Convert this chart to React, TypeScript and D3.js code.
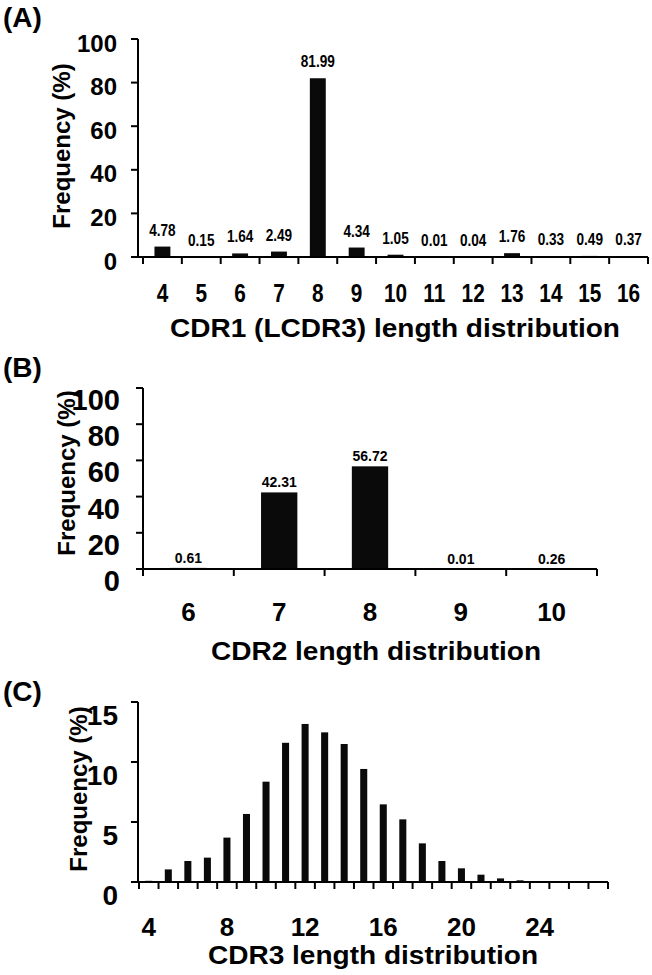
import React from "react";
import * as d3 from "d3";

// panel A: CDR1 (LCDR3)
const aCategories = [4, 5, 6, 7, 8, 9, 10, 11, 12, 13, 14, 15, 16];
const aValues = [4.78, 0.15, 1.64, 2.49, 81.99, 4.34, 1.05, 0.01, 0.04, 1.76, 0.33, 0.49, 0.37];
const aYTicks = [0, 20, 40, 60, 80, 100];

// panel B: CDR2
const bCategories = [6, 7, 8, 9, 10];
const bValues = [0.61, 42.31, 56.72, 0.01, 0.26];
const bYTicks = [0, 20, 40, 60, 80, 100];

// panel C: CDR3 (no labels in the figure)
const cCategories = [4, 5, 6, 7, 8, 9, 10, 11, 12, 13, 14, 15, 16, 17, 18, 19, 20, 21, 22, 23, 24, 25, 26, 27];
const cValues = [0.1, 1.05, 1.75, 2.03, 3.7, 5.67, 8.36, 11.6, 13.17, 12.47, 11.5, 9.42, 6.47, 5.22, 3.22, 1.75, 1.14, 0.61, 0.3, 0.14, 0.05, 0.03, 0.02, 0.01];
const cYTicks = [0, 5, 10, 15];
const cXTickLabels = [4, 8, 12, 16, 20, 24];

const FONT = "'Liberation Sans', Arial, Helvetica, sans-serif";

interface PanelProps {
  tag: string;
  tagY: number;
  categories: number[];
  values: number[];
  yTicks: number[];
  xRange: [number, number];
  yRange: [number, number];
  axisX: number;
  barRatio: number;
  xLabels?: number[];
  xLabelY: number;
  xLabelScale: number;
  yLabelSize: number;
  yLabelDy: number;
  yLabelRight: number;
  title: string;
  titleX: number;
  titleY: number;
  titleLen: number;
  freqX: number;
  freqY: number;
  valueLabels?: { size: number; gap: number; scale: number };
}

const Panel: React.FC<PanelProps> = (p) => {
  const x = d3
    .scaleBand<number>()
    .domain(p.categories)
    .range(p.xRange)
    .paddingInner(0)
    .paddingOuter(0);
  const y = d3
    .scaleLinear()
    .domain([0, d3.max(p.yTicks) || 100])
    .range(p.yRange);
  const bw = x.bandwidth();
  const barW = bw * p.barRatio;
  const y0 = y(0);
  const tickBounds = [...p.categories.map((c) => x(c) || 0), p.xRange[1]];
  const shownLabels = p.xLabels || p.categories;

  return (
    <g>
      <text x={3} y={p.tagY} fontSize={28} fontWeight="bold">
        {p.tag}
      </text>

      {/* bars */}
      {p.categories.map((c, i) => (
        <rect
          key={c}
          x={(x(c) || 0) + (bw - barW) / 2}
          y={y(p.values[i])}
          width={barW}
          height={y0 - y(p.values[i])}
          fill="#0a0a0a"
        />
      ))}

      {/* value labels */}
      {p.valueLabels &&
        p.categories.map((c, i) => (
          <text
            key={"v" + c}
            transform={`translate(${(x(c) || 0) + bw / 2},${y(p.values[i]) - p.valueLabels!.gap}) scale(${p.valueLabels!.scale},1)`}
            textAnchor="middle"
            fontSize={p.valueLabels!.size}
            fontWeight="bold"
          >
            {p.values[i].toFixed(2)}
          </text>
        ))}

      {/* y axis */}
      <line x1={p.axisX} x2={p.axisX} y1={y0} y2={p.yRange[1]} stroke="#000" strokeWidth={2} />
      {p.yTicks.map((t) => (
        <g key={"y" + t}>
          <line x1={p.axisX - 7} x2={p.axisX} y1={y(t)} y2={y(t)} stroke="#000" strokeWidth={2} />
          <text
            x={p.yLabelRight}
            y={y(t) + p.yLabelDy}
            textAnchor="end"
            fontSize={p.yLabelSize}
            fontWeight="bold"
          >
            {t}
          </text>
        </g>
      ))}

      {/* x axis */}
      <line x1={p.axisX - 6} x2={p.xRange[1]} y1={y0} y2={y0} stroke="#000" strokeWidth={2} />
      {tickBounds.map((tx, i) => (
        <line key={"xt" + i} x1={tx} x2={tx} y1={y0} y2={y0 + 7} stroke="#000" strokeWidth={2} />
      ))}
      {shownLabels.map((c) => (
        <text
          key={"xl" + c}
          transform={`translate(${(x(c) || 0) + bw / 2},${p.xLabelY}) scale(${p.xLabelScale},1)`}
          textAnchor="middle"
          fontSize={26}
          fontWeight="bold"
        >
          {c}
        </text>
      ))}

      <text
        x={p.titleX}
        y={p.titleY}
        textAnchor="middle"
        fontSize={25}
        fontWeight="bold"
        textLength={p.titleLen}
        lengthAdjust="spacingAndGlyphs"
      >
        {p.title}
      </text>

      <text
        transform={`translate(${p.freqX},${p.freqY}) rotate(-90)`}
        textAnchor="middle"
        dominantBaseline="central"
        fontSize={24}
        fontWeight="bold"
      >
        Frequency (%)
      </text>
    </g>
  );
};

export default function App() {
  return (
    <svg
      width={652}
      height={975}
      style={{ position: "absolute", left: 0, top: 0, background: "#fff" }}
      fontFamily={FONT}
    >
      <rect width={652} height={975} fill="#fff" />
      <Panel
        tag="(A)"
        tagY={27}
        categories={aCategories}
        values={aValues}
        yTicks={aYTicks}
        xRange={[143, 648]}
        yRange={[257, 39]}
        axisX={138}
        barRatio={0.41}
        xLabelY={302}
        xLabelScale={0.8}
        yLabelSize={24}
        yLabelDy={12.5}
        yLabelRight={117}
        title="CDR1 (LCDR3) length distribution"
        titleX={395}
        titleY={337}
        titleLen={450}
        freqX={61}
        freqY={146}
        valueLabels={{ size: 16, gap: 11, scale: 0.85 }}
      />
      <Panel
        tag="(B)"
        tagY={377}
        categories={bCategories}
        values={bValues}
        yTicks={bYTicks}
        xRange={[143, 597]}
        yRange={[569, 388]}
        axisX={143}
        barRatio={0.4}
        xLabelY={621}
        xLabelScale={1}
        yLabelSize={29}
        yLabelDy={22}
        yLabelRight={120}
        title="CDR2 length distribution"
        titleX={376}
        titleY={660}
        titleLen={330}
        freqX={66}
        freqY={473}
        valueLabels={{ size: 14, gap: 5, scale: 1 }}
      />
      <Panel
        tag="(C)"
        tagY={701}
        categories={cCategories}
        values={cValues}
        yTicks={cYTicks}
        xRange={[139, 608]}
        yRange={[882, 702]}
        axisX={138}
        barRatio={0.36}
        xLabels={cXTickLabels}
        xLabelY={936}
        xLabelScale={1}
        yLabelSize={28}
        yLabelDy={23}
        yLabelRight={118}
        title="CDR3 length distribution"
        titleX={373}
        titleY={964}
        titleLen={330}
        freqX={78}
        freqY={789}
      />
    </svg>
  );
}
